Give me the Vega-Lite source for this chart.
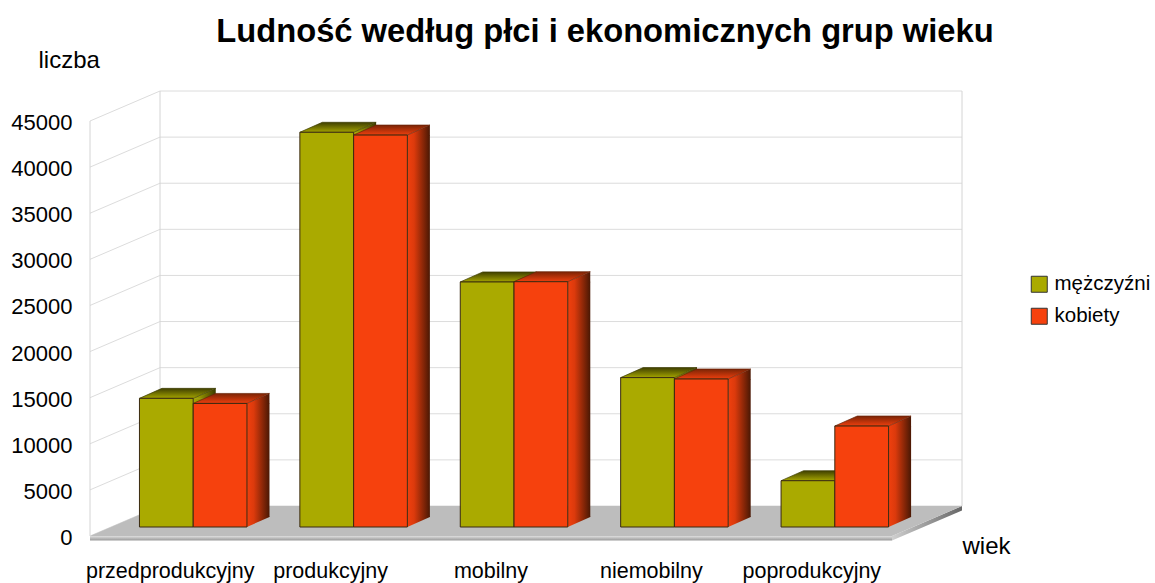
{
"$schema":"https://vega.github.io/schema/vega-lite/v6.json",
"autosize":{"type":"none"},
"padding":{"left":90,"top":121,"right":263,"bottom":47},
"width":802,"height":415,
"background":"white",
"view":{"stroke":null},
"title":{"text":"Ludność według płci i ekonomicznych grup wieku","font":"Liberation Sans","fontSize":32.7,"fontWeight":"bold","color":"#000000","anchor":"middle","dx":114,"offset":-1},
"datasets":{
"ludnosc":[
{"grupa":"przedprodukcyjny","plec":"mężczyźni","liczba":13950},
{"grupa":"przedprodukcyjny","plec":"kobiety","liczba":13400},
{"grupa":"produkcyjny","plec":"mężczyźni","liczba":42800},
{"grupa":"produkcyjny","plec":"kobiety","liczba":42500},
{"grupa":"mobilny","plec":"mężczyźni","liczba":26570},
{"grupa":"mobilny","plec":"kobiety","liczba":26600},
{"grupa":"niemobilny","plec":"mężczyźni","liczba":16200},
{"grupa":"niemobilny","plec":"kobiety","liczba":16050},
{"grupa":"poprodukcyjny","plec":"mężczyźni","liczba":5020},
{"grupa":"poprodukcyjny","plec":"kobiety","liczba":10950}
],
"siatka":[{"v":0},{"v":5000},{"v":10000},{"v":15000},{"v":20000},{"v":25000},{"v":30000},{"v":35000},{"v":40000},{"v":45000}]
},
"resolve":{"scale":{"xOffset":"independent"}},
"encoding":{
"x":{"field":"grupa","type":"nominal","scale":{"domain":["przedprodukcyjny","produkcyjny","mobilny","niemobilny","poprodukcyjny"],"paddingInner":0.33,"paddingOuter":0.165},
"axis":{"title":"wiek","titleX":872,"titleY":17,"titleAlign":"left","titleFont":"Liberation Sans","titleFontSize":24,"titleFontWeight":"normal","titleColor":"#000000","titleBaseline":"alphabetic","labelAngle":0,"labelFont":"Liberation Sans","labelFontSize":21.5,"labelColor":"#000000","labelPadding":24,"ticks":false,"domain":false,"grid":false,"labelOverlap":false}},
"y":{"field":"liczba","type":"quantitative","scale":{"domain":[0,45000],"nice":false},
"axis":{"zindex":1,"title":"liczba","titleX":-52,"titleY":-54,"titleAngle":0,"titleAlign":"left","titleFont":"Liberation Sans","titleFontSize":24,"titleFontWeight":"normal","titleColor":"#000000","titleBaseline":"alphabetic","values":[0,5000,10000,15000,20000,25000,30000,35000,40000,45000],"format":"d","labelFont":"Liberation Sans","labelFontSize":22,"labelColor":"#000000","labelPadding":18,"labelOffset":1.5,"ticks":false,"domain":false,"grid":false}}
},
"layer":[
{"data":{"name":"siatka"},"mark":{"type":"point","shape":"M-80.2,0 L-10.2,-30 H791.8","size":4,"filled":false,"stroke":"#dcdcdc","strokeWidth":1,"opacity":1},
 "encoding":{"x":{"datum":"przedprodukcyjny"},"y":{"field":"v","type":"quantitative"}}},
{"data":{"values":[{"v":0}]},"mark":{"type":"point","shape":"M-80.2,0 V-415 M-10.2,-30 V-445 M791.8,-30 V-445","size":4,"filled":false,"stroke":"#d4d4d4","strokeWidth":1,"opacity":1},
 "encoding":{"x":{"datum":"przedprodukcyjny"},"y":{"field":"v","type":"quantitative"}}},
{"data":{"values":[{"v":0}]},"mark":{"type":"point","shape":"M-80.2,0 L721.8,0 L721.8,4.5 L-80.2,4.5 Z","size":4,"filled":true,"opacity":1,"fill":{"gradient":"linear","x1":0,"y1":0,"x2":0,"y2":1,"stops":[{"offset":0,"color":"#dedede"},{"offset":1,"color":"#999999"}]}},
 "encoding":{"x":{"datum":"przedprodukcyjny"},"y":{"field":"v","type":"quantitative"}}},
{"data":{"values":[{"v":0}]},"mark":{"type":"point","shape":"M721.8,0 L791.8,-30 L791.8,-25.5 L721.8,4.5 Z","size":4,"filled":true,"opacity":1,"fill":{"gradient":"linear","x1":0,"y1":0,"x2":1,"y2":0,"stops":[{"offset":0,"color":"#cfcfcf"},{"offset":1,"color":"#666666"}]}},
 "encoding":{"x":{"datum":"przedprodukcyjny"},"y":{"field":"v","type":"quantitative"}}},
{"data":{"values":[{"v":0}]},"mark":{"type":"point","shape":"M-80.2,0 L-10.2,-30 L791.8,-30 L721.8,0 Z","size":4,"filled":true,"opacity":1,"fill":"#bdbdbd"},
 "encoding":{"x":{"datum":"przedprodukcyjny"},"y":{"field":"v","type":"quantitative"}}},

{"data":{"name":"ludnosc"},"transform":[{"filter":"datum.plec === 'mężczyźni'"}],"mark":{"type":"bar","width":22.5,"yOffset":-9,"y2Offset":-19,"fill":{"gradient":"linear","x1":0,"y1":0,"x2":1,"y2":0,"stops":[{"offset":0,"color":"#a8a800"},{"offset":0.3,"color":"#949400"},{"offset":1,"color":"#3a3a00"}]}},
 "encoding":{"y2":{"datum":0},"xOffset":{"field":"plec","type":"nominal","scale":{"domain":["mężczyźni","kobiety"],"range":[61.15,168.65]}}}},
{"data":{"name":"ludnosc"},"transform":[{"filter":"datum.plec === 'mężczyźni'"}],"mark":{"type":"point","shape":"M49.9,-8.5 L49.9,-9 L72.4,-19 L72.4,-8.5 Z","size":4,"filled":true,"opacity":1,"fill":{"gradient":"linear","x1":0,"y1":0,"x2":1,"y2":0,"stops":[{"offset":0,"color":"#a8a800"},{"offset":0.3,"color":"#949400"},{"offset":1,"color":"#3a3a00"}]}},
 "encoding":{"xOffset":{"field":"plec","type":"nominal","scale":{"domain":["mężczyźni","kobiety"]}}}},
{"data":{"name":"ludnosc"},"transform":[{"filter":"datum.plec === 'mężczyźni'"}],"mark":{"type":"point","shape":"M-3.9,-9 L18.6,-19 L72.4,-19 L49.9,-9 Z","size":4,"filled":true,"opacity":1,"stroke":"#3c3c00","strokeWidth":0.7,"fill":{"gradient":"linear","x1":0,"y1":1,"x2":0,"y2":0,"stops":[{"offset":0,"color":"#a4a400"},{"offset":1,"color":"#3f3f00"}]}},
 "encoding":{"xOffset":{"field":"plec","type":"nominal","scale":{"domain":["mężczyźni","kobiety"]}}}},

{"data":{"name":"ludnosc"},"transform":[{"filter":"datum.plec === 'kobiety'"}],"mark":{"type":"bar","width":22.5,"yOffset":-9,"y2Offset":-19,"fill":{"gradient":"linear","x1":0,"y1":0,"x2":1,"y2":0,"stops":[{"offset":0,"color":"#f0400e"},{"offset":0.3,"color":"#dc3a0c"},{"offset":1,"color":"#4a1804"}]}},
 "encoding":{"y2":{"datum":0},"xOffset":{"field":"plec","type":"nominal","scale":{"domain":["mężczyźni","kobiety"],"range":[61.15,168.65]}}}},
{"data":{"name":"ludnosc"},"transform":[{"filter":"datum.plec === 'kobiety'"}],"mark":{"type":"point","shape":"M49.9,-8.5 L49.9,-9 L72.4,-19 L72.4,-8.5 Z","size":4,"filled":true,"opacity":1,"fill":{"gradient":"linear","x1":0,"y1":0,"x2":1,"y2":0,"stops":[{"offset":0,"color":"#f0400e"},{"offset":0.3,"color":"#dc3a0c"},{"offset":1,"color":"#4a1804"}]}},
 "encoding":{"xOffset":{"field":"plec","type":"nominal","scale":{"domain":["mężczyźni","kobiety"]}}}},
{"data":{"name":"ludnosc"},"transform":[{"filter":"datum.plec === 'kobiety'"}],"mark":{"type":"point","shape":"M49.9,-19.5 L72.4,-19.5 L72.4,-19 L49.9,-9 Z","size":4,"filled":true,"opacity":1,"fill":{"gradient":"linear","x1":0,"y1":0,"x2":1,"y2":0,"stops":[{"offset":0,"color":"#f0400e"},{"offset":0.3,"color":"#dc3a0c"},{"offset":1,"color":"#4a1804"}]}},
 "encoding":{"y":{"datum":0},"xOffset":{"field":"plec","type":"nominal","scale":{"domain":["mężczyźni","kobiety"]}}}},
{"data":{"name":"ludnosc"},"transform":[{"filter":"datum.plec === 'kobiety'"}],"mark":{"type":"point","shape":"M-3.9,-9 L18.6,-19 L72.4,-19 L49.9,-9 Z","size":4,"filled":true,"opacity":1,"stroke":"#6a2408","strokeWidth":0.7,"fill":{"gradient":"linear","x1":0,"y1":1,"x2":0,"y2":0,"stops":[{"offset":0,"color":"#ee3f0e"},{"offset":1,"color":"#7a2405"}]}},
 "encoding":{"xOffset":{"field":"plec","type":"nominal","scale":{"domain":["mężczyźni","kobiety"]}}}},

{"data":{"name":"ludnosc"},"mark":{"type":"bar","yOffset":-9,"y2Offset":-9,"stroke":"#3a2a10","strokeWidth":1},
 "encoding":{"y2":{"datum":0},"xOffset":{"field":"plec","type":"nominal","scale":{"domain":["mężczyźni","kobiety"],"range":[23,130.5]}},"color":{"field":"plec","type":"nominal","scale":{"domain":["mężczyźni","kobiety"],"range":["#aaaa00","#f6410d"]},
  "legend":{"title":null,"orient":"none","legendX":939,"legendY":153,"padding":0,"symbolType":"square","symbolSize":256,"symbolStrokeColor":"#333333","symbolStrokeWidth":1,"symbolOpacity":1,"labelFont":"Liberation Sans","labelFontSize":20.5,"labelColor":"#000000","labelOffset":5,"rowPadding":11,"labelLimit":200}}}}
]
}
